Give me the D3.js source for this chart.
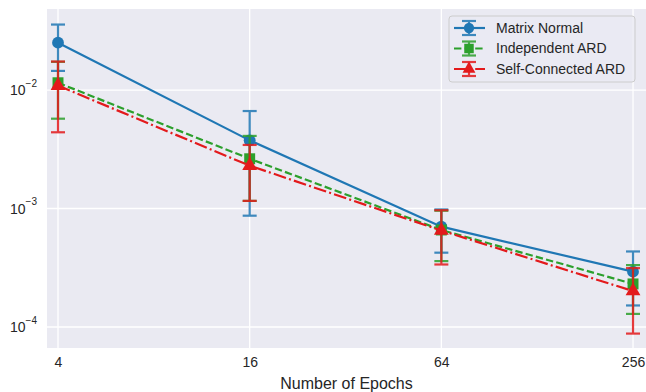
<!DOCTYPE html>
<html>
<head>
<meta charset="utf-8">
<script src="https://cdn.jsdelivr.net/npm/d3@7"></script>
<style>
  html, body { margin: 0; padding: 0; background: #fff; }
  svg { display: block; font-family: Arial, "Liberation Sans", sans-serif; }
</style>
</head>
<body>
<svg id="chart" width="646" height="392"></svg>
<script>
// Training epochs (x) and error per model, with symmetric error half-widths
const epochs = [4, 16, 64, 256];
const seriesNames = ["Matrix Normal", "Independent ARD", "Self-Connected ARD"];
const matrixNormal = [0.0251, 0.00376, 0.000703, 0.000293];
const matrixNormalErr = [0.0106, 0.00289, 0.000279, 0.000141];
const independentArd = [0.01152, 0.00263, 0.000659, 0.000231];
const independentArdErr = [0.00579, 0.00147, 0.000299, 0.000102];
const selfConnectedArd = [0.0109, 0.0023, 0.000652, 0.000201];
const selfConnectedArdErr = [0.0065, 0.00114, 0.000315, 0.000113];
const yTickExponents = [-4, -3, -2];

const colors = ["#1f77b4", "#2ca02c", "#e31a1c"];
const dashes = [null, "7.4,3.2", "12.8,3.2,2,3.2"];
const markers = [d3.symbolCircle, d3.symbolSquare, d3.symbolTriangle];
const markerSizes = [110, 120, 95];

const series = seriesNames.map((name, i) => ({
  name,
  values: [matrixNormal, independentArd, selfConnectedArd][i],
  errs: [matrixNormalErr, independentArdErr, selfConnectedArdErr][i],
  color: colors[i], dash: dashes[i], marker: markers[i], msize: markerSizes[i]
}));

const svg = d3.select("#chart");
const plot = { left: 47, right: 646, top: 9, bottom: 348 };

const x = d3.scaleLog().base(2).domain([3.694, 281.2]).range([plot.left, plot.right]);
const y = d3.scaleLog().domain([6.65e-5, 0.0483]).range([plot.bottom, plot.top]);

// Panel background
svg.append("rect")
  .attr("x", plot.left).attr("y", plot.top)
  .attr("width", plot.right - plot.left).attr("height", plot.bottom - plot.top)
  .attr("fill", "#eaeaf2");

// Grid
const grid = svg.append("g").attr("stroke", "#fff").attr("stroke-width", 1.3);
epochs.forEach(e => grid.append("line")
  .attr("x1", x(e)).attr("x2", x(e)).attr("y1", plot.top).attr("y2", plot.bottom));
yTickExponents.forEach(p => grid.append("line")
  .attr("x1", plot.left).attr("x2", plot.right).attr("y1", y(Math.pow(10, p))).attr("y2", y(Math.pow(10, p))));

// X axis tick labels
const xAxis = d3.axisBottom(x).tickValues(epochs).tickFormat(d3.format("d")).tickSize(0).tickPadding(9);
const gx = svg.append("g").attr("transform", `translate(0,${plot.bottom})`).call(xAxis);
gx.select(".domain").remove();
gx.selectAll("text").attr("font-size", 14).attr("fill", "#262626")
  .attr("font-family", "Arial, 'Liberation Sans', sans-serif");

// Y axis tick labels with superscript exponents
const yAxis = d3.axisLeft(y).tickValues(yTickExponents.map(p => Math.pow(10, p))).tickSize(0).tickPadding(0).tickFormat(() => "");
const gy = svg.append("g").attr("transform", `translate(${plot.left},0)`).call(yAxis);
gy.select(".domain").remove();
gy.selectAll(".tick text").remove();
gy.selectAll(".tick").each(function(d) {
  const p = Math.round(Math.log10(d));
  const t = d3.select(this).append("text")
    .attr("x", -10).attr("y", 0).attr("dy", "0.45em")
    .attr("text-anchor", "end").attr("fill", "#262626")
    .attr("font-family", "Arial, 'Liberation Sans', sans-serif");
  t.append("tspan").attr("font-size", 14).text("10");
  t.append("tspan").attr("font-size", 10).attr("dy", "-0.85em").text("\u2212" + Math.abs(p));
});

// X axis title
svg.append("text")
  .attr("x", (plot.left + plot.right) / 2).attr("y", 389)
  .attr("text-anchor", "middle").attr("font-size", 16).attr("fill", "#262626")
  .text("Number of Epochs");

// Series: line, error bars, markers
const line = d3.line().x((d, i) => x(epochs[i])).y(d => y(d));
const capHalf = 7;

series.forEach(s => {
  const g = svg.append("g");
  g.append("path").datum(s.values)
    .attr("d", line).attr("fill", "none")
    .attr("stroke", s.color).attr("stroke-width", 2.2)
    .attr("stroke-dasharray", s.dash);

  const eb = g.append("g").attr("stroke", s.color).attr("stroke-width", 2.2).attr("opacity", 0.85);
  s.values.forEach((v, i) => {
    const cx = x(epochs[i]);
    const yTop = y(v + s.errs[i]);
    const yBot = y(v - s.errs[i]);
    eb.append("line").attr("x1", cx).attr("x2", cx).attr("y1", yTop).attr("y2", yBot);
    eb.append("line").attr("x1", cx - capHalf).attr("x2", cx + capHalf).attr("y1", yTop).attr("y2", yTop);
    eb.append("line").attr("x1", cx - capHalf).attr("x2", cx + capHalf).attr("y1", yBot).attr("y2", yBot);
  });

  g.selectAll("path.marker").data(s.values).join("path")
    .attr("class", "marker")
    .attr("transform", (d, i) => `translate(${x(epochs[i])},${y(d)})`)
    .attr("d", d3.symbol().type(s.marker).size(s.msize))
    .attr("fill", s.color);
});

// Legend
const legend = svg.append("g").attr("transform", "translate(449,16)");
legend.append("rect")
  .attr("x", 0).attr("y", 0).attr("width", 186).attr("height", 66).attr("rx", 3)
  .attr("fill", "#eaeaf2").attr("fill-opacity", 0.8)
  .attr("stroke", "#cccccc").attr("stroke-width", 1);

series.forEach((s, i) => {
  const row = legend.append("g").attr("transform", `translate(0,${12 + i * 20.5})`);
  row.append("line").attr("x1", 5).attr("x2", 36).attr("y1", 0).attr("y2", 0)
    .attr("stroke", s.color).attr("stroke-width", 2.2).attr("stroke-dasharray", s.dash);
  const eb = row.append("g").attr("stroke", s.color).attr("stroke-width", 2.2).attr("opacity", 0.85);
  eb.append("line").attr("x1", 20).attr("x2", 20).attr("y1", -7).attr("y2", 7);
  eb.append("line").attr("x1", 13).attr("x2", 27).attr("y1", -7).attr("y2", -7);
  eb.append("line").attr("x1", 13).attr("x2", 27).attr("y1", 7).attr("y2", 7);
  row.append("path").attr("transform", "translate(20,0)")
    .attr("d", d3.symbol().type(s.marker).size(s.msize * 0.75)).attr("fill", s.color);
  row.append("text").attr("x", 47).attr("y", 0).attr("dy", "0.35em")
    .attr("font-size", 14).attr("fill", "#262626").text(s.name);
});
</script>
</body>
</html>
